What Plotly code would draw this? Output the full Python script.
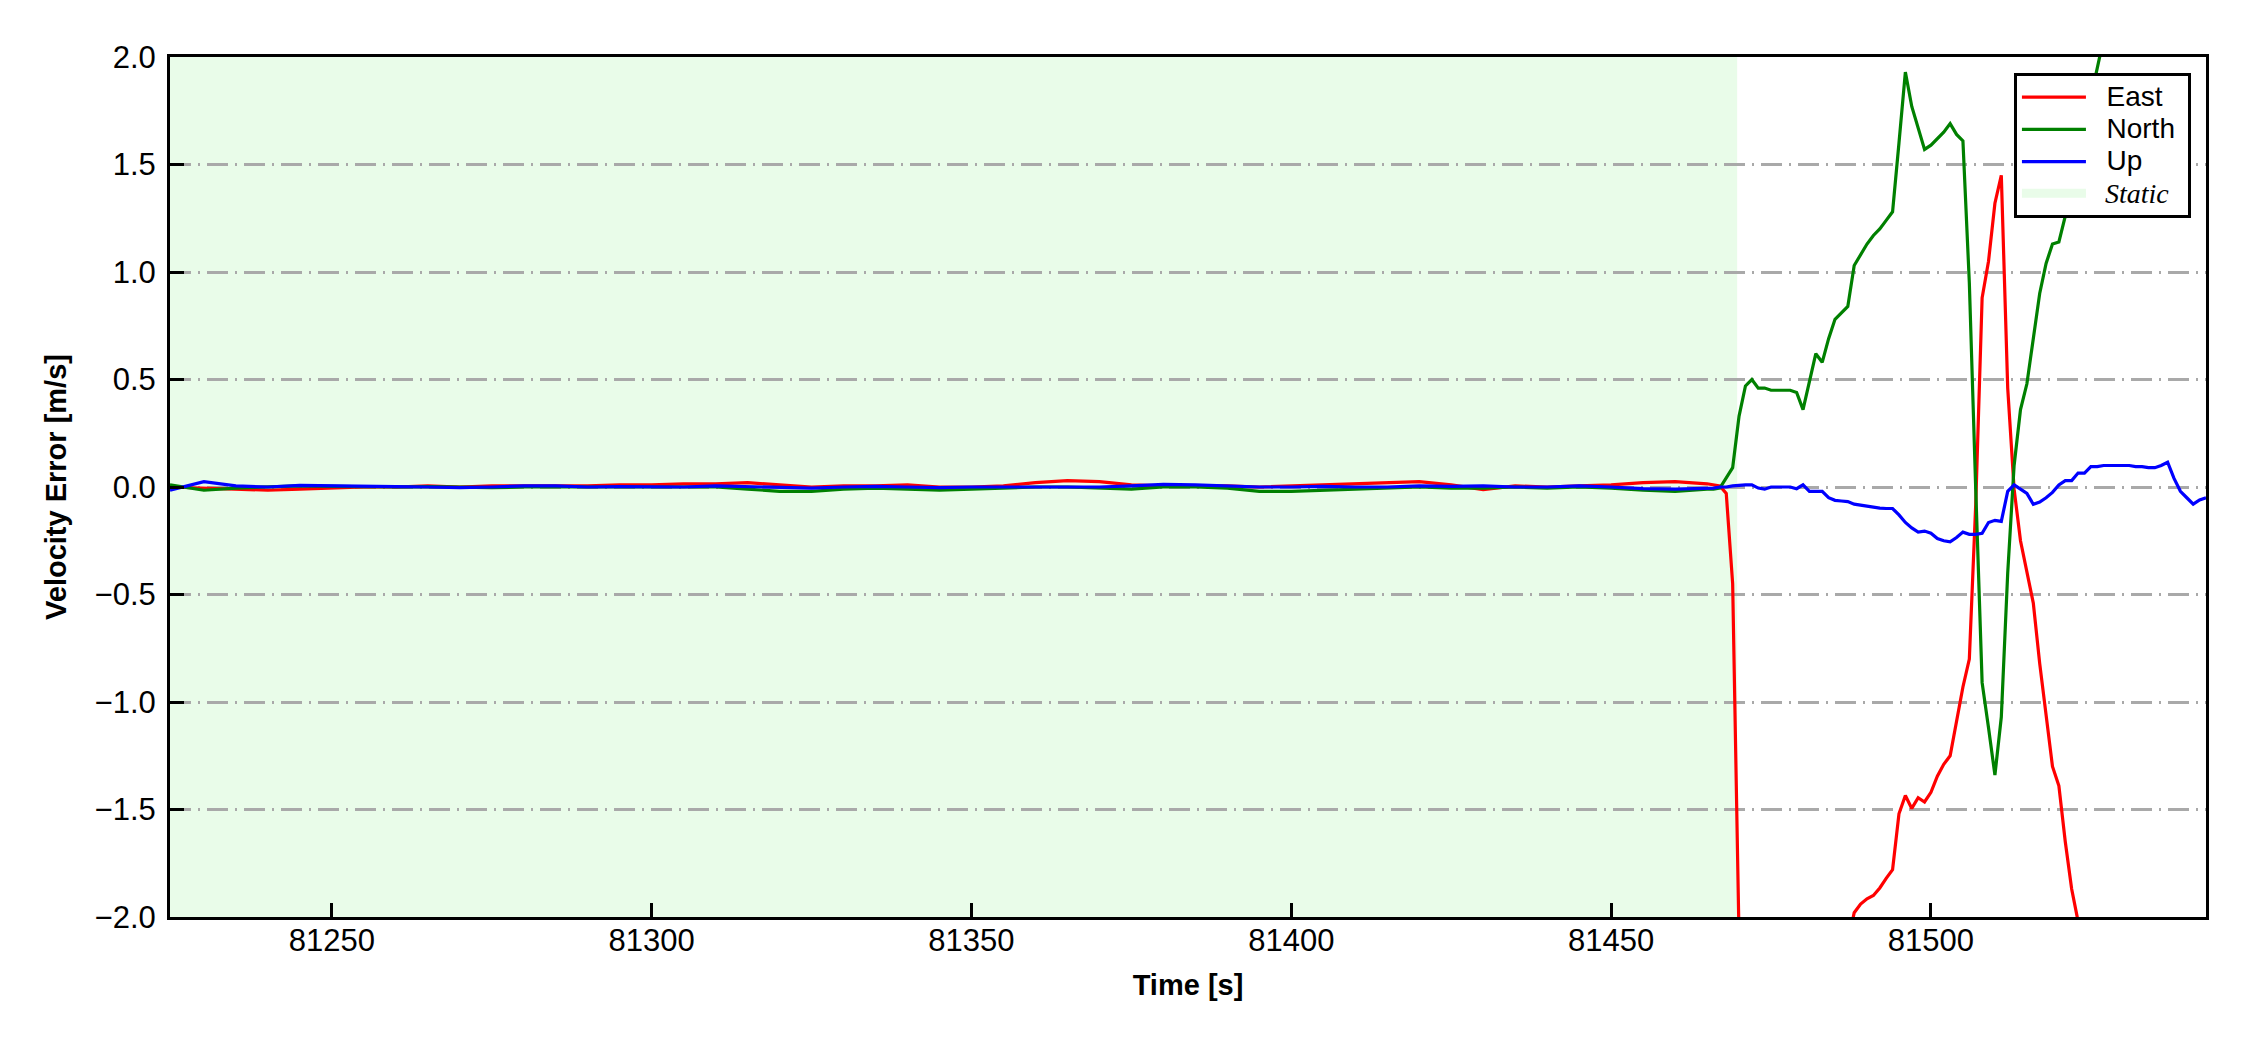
import plotly.graph_objects as go

# ---------------- data ----------------
# time stamps [s]: coarse during the static period, 1 s afterwards
time_static = [81224.7, 81230, 81235, 81240, 81245, 81250, 81255, 81260, 81265, 81270,
               81275, 81280, 81285, 81290, 81295, 81300, 81305, 81310, 81315, 81320,
               81325, 81330, 81335, 81340, 81345, 81350, 81355, 81360, 81365, 81370,
               81375, 81380, 81385, 81390, 81395, 81400, 81405, 81410, 81415, 81420,
               81425, 81430, 81435, 81440, 81445, 81450, 81455, 81460, 81465]
time_dynamic = list(range(81466, 81544))

east_static = [0.000, -0.005, -0.010, -0.015, -0.010, -0.005, 0.000, 0.000, 0.005, 0.000,
               0.005, 0.005, 0.005, 0.005, 0.010, 0.010, 0.015, 0.015, 0.020, 0.010,
               0.000, 0.005, 0.005, 0.010, 0.000, 0.000, 0.005, 0.020, 0.030, 0.025,
               0.010, 0.005, 0.005, 0.005, 0.000, 0.005, 0.010, 0.015, 0.020, 0.025,
               0.010, -0.012, 0.005, 0.000, 0.005, 0.010, 0.020, 0.025, 0.015]
north_static = [0.010, -0.015, -0.005, 0.000, 0.005, 0.003, 0.000, 0.000, 0.002, 0.000,
                -0.003, 0.000, 0.002, 0.000, 0.000, 0.000, 0.000, 0.000, -0.010, -0.020,
                -0.020, -0.010, -0.005, -0.010, -0.015, -0.010, -0.005, 0.000, 0.000, -0.005,
                -0.010, 0.000, 0.000, -0.005, -0.020, -0.020, -0.015, -0.010, -0.005, 0.000,
                -0.005, -0.005, 0.000, -0.005, 0.000, -0.005, -0.015, -0.020, -0.010]
up_static = [-0.015, 0.025, 0.005, 0.000, 0.008, 0.005, 0.005, 0.002, 0.000, -0.003,
             0.000, 0.005, 0.005, 0.000, 0.002, 0.000, 0.000, 0.005, 0.002, -0.003,
             -0.005, 0.000, 0.003, 0.000, -0.003, 0.000, 0.000, -0.003, 0.000, 0.000,
             0.005, 0.012, 0.010, 0.005, 0.000, 0.000, 0.003, 0.000, 0.000, 0.005,
             0.003, 0.005, 0.000, 0.000, 0.005, 0.000, -0.008, -0.010, -0.005]

east_dynamic = [0.010, 0.005, -0.030, -0.450, -2.100, -3.400, -3.800, -4.000, -4.100, -4.100,
                -4.000, -3.900, -3.700, -3.500, -3.300, -3.100, -2.900, -2.700, -2.550, -2.400,
                -2.280, -2.120, -1.980, -1.940, -1.915, -1.900, -1.865, -1.820, -1.780, -1.520,
                -1.435, -1.495, -1.445, -1.465, -1.420, -1.345, -1.290, -1.250, -1.080, -0.930,
                -0.800, -0.080, 0.880, 1.050, 1.320, 1.450, 0.460, -0.010, -0.250, -0.400,
                -0.540, -0.820, -1.070, -1.300, -1.390, -1.650, -1.870, -2.020, -2.250, -2.500,
                -2.700, -2.900, -3.100, -3.300, -3.450, -3.600, -3.700, -3.800, -3.900, -4.000,
                -4.100, -4.150, -4.200, -4.200, -4.250, -4.300, -4.300, -4.300]
north_dynamic = [-0.010, -0.005, 0.040, 0.090, 0.330, 0.470, 0.500, 0.460, 0.460, 0.450,
                 0.450, 0.450, 0.450, 0.440, 0.360, 0.490, 0.620, 0.580, 0.690, 0.780,
                 0.810, 0.840, 1.030, 1.080, 1.130, 1.170, 1.200, 1.240, 1.280, 1.600,
                 1.930, 1.770, 1.670, 1.570, 1.590, 1.620, 1.650, 1.690, 1.640, 1.610,
                 0.950, -0.010, -0.910, -1.120, -1.340, -1.070, -0.400, 0.100, 0.360, 0.480,
                 0.680, 0.900, 1.040, 1.130, 1.140, 1.260, 1.400, 1.540, 1.680, 1.820,
                 1.960, 2.100, 2.240, 2.360, 2.480, 2.600, 2.700, 2.800, 2.900, 3.000,
                 3.050, 3.100, 3.150, 3.200, 3.200, 3.250, 3.300, 3.300]
up_dynamic = [-0.005, 0.000, 0.000, 0.005, 0.008, 0.010, 0.010, -0.005, -0.010, 0.000,
              0.000, 0.000, 0.000, -0.008, 0.010, -0.020, -0.020, -0.020, -0.050, -0.062,
              -0.065, -0.068, -0.080, -0.085, -0.090, -0.095, -0.098, -0.100, -0.100, -0.130,
              -0.165, -0.190, -0.210, -0.205, -0.215, -0.240, -0.250, -0.255, -0.235, -0.210,
              -0.220, -0.220, -0.215, -0.165, -0.155, -0.160, -0.020, 0.010, -0.010, -0.030,
              -0.080, -0.070, -0.050, -0.025, 0.010, 0.030, 0.030, 0.065, 0.065, 0.095,
              0.095, 0.100, 0.100, 0.100, 0.100, 0.100, 0.095, 0.095, 0.090, 0.090,
              0.100, 0.115, 0.040, -0.020, -0.050, -0.080, -0.060, -0.050]

static_start = 81224.7
static_end = 81469.7
x_range = [81224.7, 81543.0]
y_range = [-2.0, 2.0]
x_ticks = [81250, 81300, 81350, 81400, 81450, 81500]
y_ticks = [-2.0, -1.5, -1.0, -0.5, 0.0, 0.5, 1.0, 1.5, 2.0]

series_names = ["East", "North", "Up"]
series_colors = ["#ff0000", "#008000", "#0000ff"]
static_name = "Static"

# ---------------- figure ----------------
time_all = time_static + time_dynamic
series_vals = [east_static + east_dynamic,
               north_static + north_dynamic,
               up_static + up_dynamic]

GAP = "\u00a0\u00a0"
PAD = "\u00a0"

fig = go.Figure()
for name, color, vals in zip(series_names, series_colors, series_vals):
    fig.add_trace(go.Scatter(
        x=time_all, y=vals, mode="lines",
        name=f"<span style='font-size:28px'>{GAP}{name}{PAD}</span>",
        line=dict(color=color, width=3.2)))

# legend entry for the static shading (single off-range point: nothing drawn in the plot)
fig.add_trace(go.Scatter(
    x=[static_start], y=[-10], mode="lines", fill="toself",
    fillcolor="#e9fce9", line=dict(width=6, color="#e9fce9"),
    name=(f"<span style='font-size:28px;font-family:Liberation Serif'>{GAP}"
          f"<i>{static_name}</i>{PAD}</span>"),
    hoverinfo="skip"))

fig.add_shape(type="rect", xref="x", yref="paper", x0=static_start, x1=static_end,
              y0=0, y1=1, fillcolor="rgba(144,238,144,0.2)", line=dict(width=0),
              layer="below")

tick_font = dict(family="Liberation Sans, Arial", size=31, color="black")
title_font = dict(family="Liberation Sans, Arial", size=29, color="black")

fig.update_layout(
    width=2242, height=1042,
    margin=dict(l=162, r=44, t=49, b=133),
    paper_bgcolor="white", plot_bgcolor="white",
    font=tick_font,
    xaxis=dict(range=x_range, tickvals=x_ticks, ticktext=[str(v) for v in x_ticks],
               ticks="inside", ticklen=14, tickwidth=2.5, tickcolor="black",
               showline=True, linecolor="black", linewidth=3, mirror=True,
               showgrid=False, zeroline=False, tickfont=tick_font,
               ticklabelstandoff=-6,
               title=dict(text="<b>Time [s]</b>", font=title_font, standoff=18)),
    yaxis=dict(range=y_range, tickvals=y_ticks, tickformat=".1f",
               ticks="inside", ticklen=14, tickwidth=2.5, tickcolor="black",
               showline=True, linecolor="black", linewidth=3, mirror=True,
               showgrid=True, gridcolor="#a9a9a9", gridwidth=2.5,
               griddash="21px,7px,2px,7px", zeroline=False, tickfont=tick_font,
               ticklabelstandoff=5,
               title=dict(text="<b>Velocity Error [m/s]</b>", font=title_font, standoff=20)),
    legend=dict(x=0.9926, y=0.9814, xanchor="right", yanchor="top",
                bgcolor="white", bordercolor="black", borderwidth=3,
                font=dict(family="Liberation Sans, Arial", size=22.5, color="black"),
                itemwidth=64, tracegroupgap=0),
    showlegend=True,
)

fig.write_html("out.html")
